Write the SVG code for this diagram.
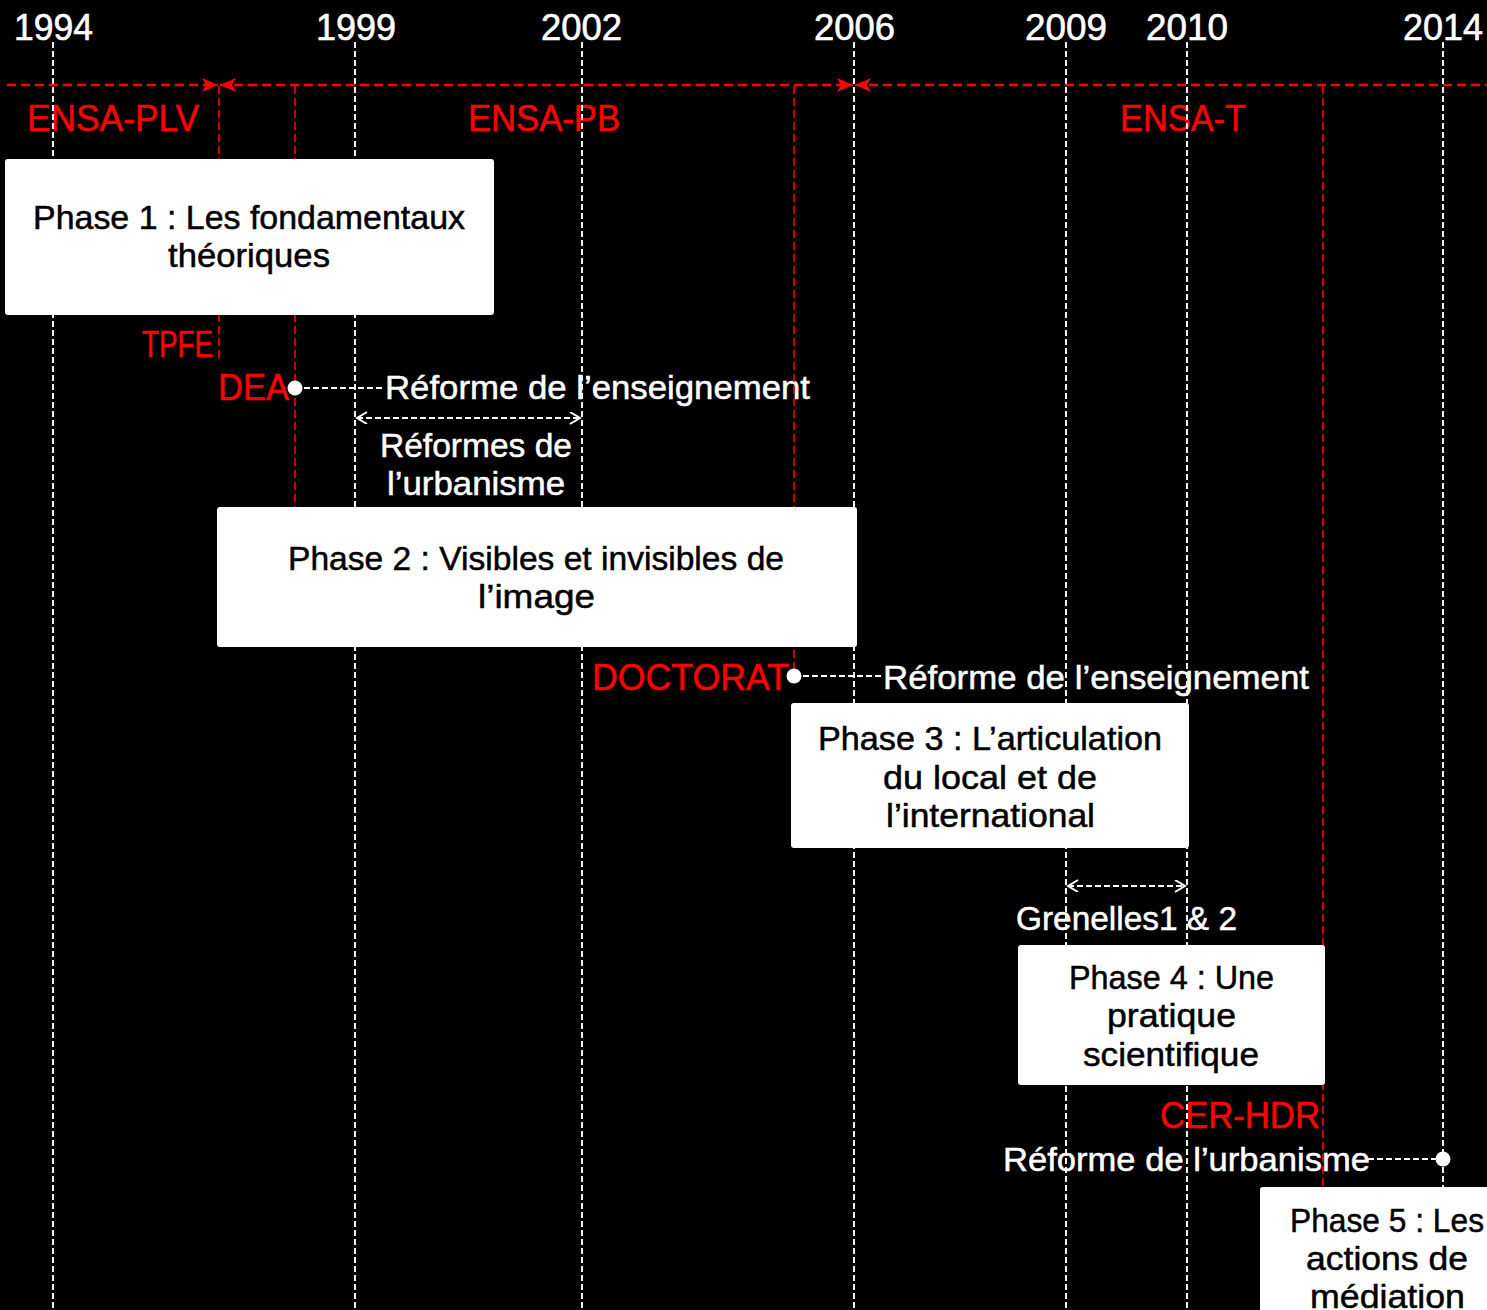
<svg xmlns="http://www.w3.org/2000/svg" width="1487" height="1310" viewBox="0 0 1487 1310">
<defs>
<style>
.yr{font-family:"Liberation Sans",Arial,sans-serif;font-size:36px;fill:#fff;stroke:#fff;stroke-width:0.6}
.red{font-family:"Liberation Sans",Arial,sans-serif;font-size:36px;fill:#ff0000;stroke:#ff0000;stroke-width:0.5}
.lbl{font-family:"Liberation Sans",Arial,sans-serif;font-size:34px;fill:#fff;stroke:#fff;stroke-width:0.5}
.bt{font-family:"Liberation Sans",Arial,sans-serif;font-size:33px;fill:#000;stroke:#000;stroke-width:0.5}
.box{fill:#fff}
.vw{stroke:#f2f2f2;stroke-width:2;stroke-dasharray:6 3;fill:none}
.vr{stroke:#ff0000;stroke-width:1.6;stroke-dasharray:8 4;fill:none}
.hr{stroke:#ff0000;stroke-width:2.5;stroke-dasharray:9 5;fill:none}
.cw{stroke:#fff;stroke-width:2;stroke-dasharray:6 3;fill:none}
</style>
<marker id="ra" markerUnits="userSpaceOnUse" markerWidth="18" markerHeight="16" refX="16" refY="7" orient="auto-start-reverse">
<path d="M0,0 L16,7 L0,14 L4,7 Z" fill="#ff0000"/>
</marker>
<marker id="wa" markerUnits="userSpaceOnUse" markerWidth="14" markerHeight="14" refX="12" refY="6" orient="auto-start-reverse">
<path d="M2,0 L12,6 L2,12" fill="none" stroke="#fff" stroke-width="2"/>
</marker>
</defs>
<rect x="0" y="0" width="1487" height="1310" fill="#000"/>

<g id="labels">
<text class="yr" x="14" y="40" textLength="79" lengthAdjust="spacingAndGlyphs">1994</text>
<text class="yr" x="316" y="40" textLength="80" lengthAdjust="spacingAndGlyphs">1999</text>
<text class="yr" x="541" y="40" textLength="81" lengthAdjust="spacingAndGlyphs">2002</text>
<text class="yr" x="814" y="40" textLength="81" lengthAdjust="spacingAndGlyphs">2006</text>
<text class="yr" x="1025" y="40" textLength="82" lengthAdjust="spacingAndGlyphs">2009</text>
<text class="yr" x="1146" y="40" textLength="82" lengthAdjust="spacingAndGlyphs">2010</text>
<text class="yr" x="1403" y="40" textLength="80" lengthAdjust="spacingAndGlyphs">2014</text>

<text class="red" x="27" y="131" textLength="172" lengthAdjust="spacingAndGlyphs">ENSA-PLV</text>
<text class="red" x="468" y="131" textLength="152" lengthAdjust="spacingAndGlyphs">ENSA-PB</text>
<text class="red" x="1120" y="131" textLength="126" lengthAdjust="spacingAndGlyphs">ENSA-T</text>

<text class="red" x="142" y="357" textLength="71" lengthAdjust="spacingAndGlyphs">TPFE</text>
<text class="red" x="218" y="400" textLength="71" lengthAdjust="spacingAndGlyphs">DEA</text>
<text class="lbl" x="385" y="399" textLength="425" lengthAdjust="spacingAndGlyphs">Réforme de l’enseignement</text>
<text class="lbl" x="380" y="457" textLength="192" lengthAdjust="spacingAndGlyphs">Réformes de</text>
<text class="lbl" x="387" y="495" textLength="178" lengthAdjust="spacingAndGlyphs">l’urbanisme</text>

<text class="red" x="592" y="690" textLength="197" lengthAdjust="spacingAndGlyphs">DOCTORAT</text>
<text class="lbl" x="883" y="689" textLength="426" lengthAdjust="spacingAndGlyphs">Réforme de l’enseignement</text>

<text class="lbl" x="1016" y="930" textLength="221" lengthAdjust="spacingAndGlyphs">Grenelles1 &amp; 2</text>
<text class="red" x="1160" y="1128" textLength="160" lengthAdjust="spacingAndGlyphs">CER-HDR</text>
<text class="lbl" x="1003" y="1171" textLength="367" lengthAdjust="spacingAndGlyphs">Réforme de l’urbanisme</text>
</g>

<g id="connectors">
<line class="vw" x1="53" y1="42" x2="53" y2="1310"/>
<line class="vw" x1="355" y1="42" x2="355" y2="1310"/>
<line class="vw" x1="582" y1="42" x2="582" y2="1310"/>
<line class="vw" x1="854" y1="42" x2="854" y2="1310"/>
<line class="vw" x1="1066" y1="42" x2="1066" y2="1310"/>
<line class="vw" x1="1187" y1="42" x2="1187" y2="1310"/>
<line class="vw" x1="1443" y1="42" x2="1443" y2="1310"/>

<line class="vr" x1="219" y1="86" x2="219" y2="358"/>
<line class="vr" x1="295" y1="86" x2="295" y2="510"/>
<line class="vr" x1="794" y1="86" x2="794" y2="676"/>
<line class="vr" x1="1323" y1="86" x2="1323" y2="1188"/>

<line class="hr" x1="7" y1="85" x2="218" y2="85" marker-end="url(#ra)"/>
<line class="hr" x1="220" y1="85" x2="853" y2="85" marker-start="url(#ra)" marker-end="url(#ra)"/>
<line class="hr" x1="855" y1="85" x2="1487" y2="85" marker-start="url(#ra)"/>

<line class="cw" x1="295" y1="388" x2="384" y2="388"/>
<circle cx="295" cy="388" r="7.5" fill="#fff"/>
<line class="cw" x1="357" y1="418" x2="580" y2="418" marker-start="url(#wa)" marker-end="url(#wa)"/>

<line class="cw" x1="794" y1="676" x2="882" y2="676"/>
<circle cx="794" cy="676" r="7.5" fill="#fff"/>

<line class="cw" x1="1068" y1="886" x2="1185" y2="886" marker-start="url(#wa)" marker-end="url(#wa)"/>

<line class="cw" x1="1368" y1="1159" x2="1443" y2="1159"/>
<circle cx="1443" cy="1159" r="7.5" fill="#fff"/>
</g>

<g id="phase1">
<rect class="box" x="5" y="159" width="489" height="156" rx="3"/>
<text class="bt" x="33" y="229" textLength="432" lengthAdjust="spacingAndGlyphs">Phase 1 : Les fondamentaux</text>
<text class="bt" x="168" y="267" textLength="162" lengthAdjust="spacingAndGlyphs">théoriques</text>
</g>

<g id="phase2">
<rect class="box" x="217" y="507" width="640" height="140" rx="3"/>
<text class="bt" x="288" y="570" textLength="496" lengthAdjust="spacingAndGlyphs">Phase 2 : Visibles et invisibles de</text>
<text class="bt" x="478" y="608" textLength="117" lengthAdjust="spacingAndGlyphs">l’image</text>
</g>

<g id="phase3">
<rect class="box" x="791" y="703" width="398" height="145" rx="3"/>
<text class="bt" x="818" y="750" textLength="344" lengthAdjust="spacingAndGlyphs">Phase 3 : L’articulation</text>
<text class="bt" x="883" y="789" textLength="214" lengthAdjust="spacingAndGlyphs">du local et de</text>
<text class="bt" x="886" y="827" textLength="209" lengthAdjust="spacingAndGlyphs">l’international</text>
</g>

<g id="phase4">
<rect class="box" x="1018" y="945" width="307" height="140" rx="3"/>
<text class="bt" x="1069" y="989" textLength="205" lengthAdjust="spacingAndGlyphs">Phase 4 : Une</text>
<text class="bt" x="1107" y="1027" textLength="129" lengthAdjust="spacingAndGlyphs">pratique</text>
<text class="bt" x="1083" y="1066" textLength="176" lengthAdjust="spacingAndGlyphs">scientifique</text>
</g>

<g id="phase5">
<rect class="box" x="1260" y="1187" width="235" height="130" rx="3"/>
<text class="bt" x="1290" y="1232" textLength="194" lengthAdjust="spacingAndGlyphs">Phase 5 : Les</text>
<text class="bt" x="1306" y="1270" textLength="162" lengthAdjust="spacingAndGlyphs">actions de</text>
<text class="bt" x="1310" y="1308" textLength="155" lengthAdjust="spacingAndGlyphs">médiation</text>
</g>
</svg>
